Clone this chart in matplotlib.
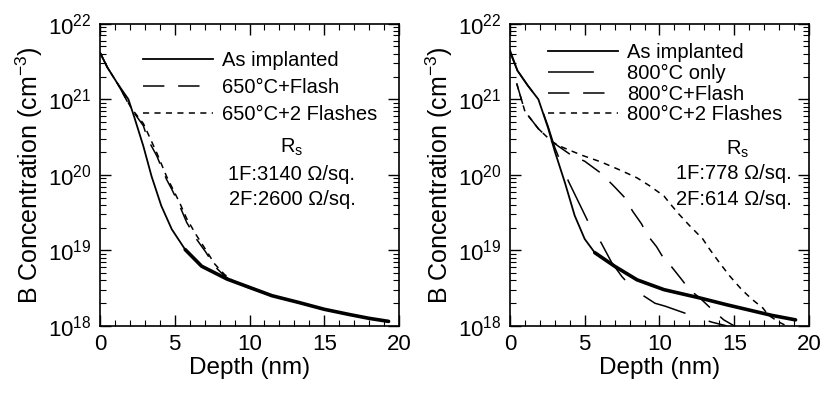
import numpy as np
import matplotlib
matplotlib.use('Agg')
import matplotlib.pyplot as plt
from matplotlib.ticker import MultipleLocator, LogLocator

plt.rcParams['font.family'] = 'Liberation Sans'
plt.rcParams['mathtext.fontset'] = 'custom'
plt.rcParams['mathtext.rm'] = 'Liberation Sans'
plt.rcParams['mathtext.it'] = 'Liberation Sans:italic'
plt.rcParams['mathtext.default'] = 'regular'

# depth (nm) and log10 of B concentration (cm^-3)
# left panel
l_imp_x = [0, 0.5, 1.2, 1.9, 2.3, 2.9, 3.45, 4.1, 4.8, 5.7, 6.8, 8.5, 10.0, 11.5, 13.3, 15.0, 16.7, 18.0, 19.3]
l_imp_y = [21.62, 21.42, 21.20, 21.0, 20.76, 20.38, 19.98, 19.59, 19.28, 19.01, 18.79, 18.62, 18.51, 18.40, 18.31, 18.22, 18.15, 18.10, 18.06]
l_f1_x = [0, 0.5, 1.2, 2.1, 2.9, 3.2, 3.8, 4.45, 4.8, 5.33, 5.8, 6.45, 7.1, 7.67, 8.33, 9.0, 10.0, 11.5, 13.3, 15.0, 16.7, 18.0, 19.3]
l_f1_y = [21.62, 21.42, 21.20, 20.87, 20.65, 20.47, 20.25, 19.94, 19.81, 19.59, 19.37, 19.15, 18.97, 18.79, 18.66, 18.57, 18.50, 18.40, 18.31, 18.22, 18.15, 18.10, 18.06]
l_f2_x = [0, 0.5, 1.2, 2.1, 2.9, 3.8, 4.45, 5.33, 5.8, 6.45, 7.1, 7.67, 8.33, 9.0, 10.0, 11.5, 13.3, 15.0, 16.7, 18.0, 19.3]
l_f2_y = [21.62, 21.42, 21.20, 20.88, 20.68, 20.29, 19.98, 19.63, 19.42, 19.20, 19.00, 18.82, 18.68, 18.58, 18.51, 18.40, 18.31, 18.22, 18.15, 18.10, 18.06]

# right panel
r_imp_x = [0, 0.5, 1.2, 1.9, 2.55, 3.0, 3.67, 4.33, 5.0, 5.67, 7.0, 8.5, 10.3, 12.7, 14.5, 16.0, 17.5, 19.1]
r_imp_y = [21.65, 21.38, 21.18, 21.0, 20.62, 20.31, 19.90, 19.46, 19.15, 18.97, 18.79, 18.61, 18.48, 18.37, 18.28, 18.21, 18.14, 18.08]
r_only_x = [0, 0.5, 1.2, 1.9, 2.55, 3.0, 3.9, 5.2, 6.1, 6.8, 7.5, 8.3, 9.7, 10.4, 12.4, 13.5, 14.5]
r_only_y = [21.62, 21.38, 21.18, 21.0, 20.64, 20.36, 19.92, 19.39, 19.10, 18.84, 18.65, 18.48, 18.30, 18.26, 18.12, 18.05, 18.0]
r_f1_x = [0.45, 1.0, 1.9, 2.8, 4.1, 5.0, 6.1, 7.0, 7.67, 8.2, 8.8, 9.2, 9.8, 10.2, 10.7, 11.1, 11.5, 12.0, 12.7, 13.5, 14.3, 15.0]
r_f1_y = [21.21, 20.84, 20.61, 20.44, 20.26, 20.18, 20.02, 19.84, 19.70, 19.52, 19.35, 19.20, 19.05, 18.92, 18.81, 18.71, 18.61, 18.48, 18.37, 18.22, 18.08, 18.0]
r_f2_x = [0.45, 1.0, 1.9, 2.8, 3.45, 4.8, 6.1, 7.4, 8.5, 9.3, 10.3, 10.7, 11.3, 12.0, 12.9, 13.3, 14.0, 14.7, 15.5, 16.2, 16.9, 17.3, 18.0, 18.5]
r_f2_y = [21.21, 20.84, 20.61, 20.44, 20.37, 20.26, 20.17, 20.06, 19.96, 19.86, 19.72, 19.62, 19.48, 19.33, 19.15, 19.03, 18.84, 18.66, 18.48, 18.35, 18.24, 18.14, 18.05, 18.0]

left_labels = ['As implanted', '650°C+Flash', '650°C+2 Flashes']
right_labels = ['As implanted', '800°C only', '800°C+Flash', '800°C+2 Flashes']
left_rs = ['1F:3140 Ω/sq.', '2F:2600 Ω/sq.']
right_rs = ['1F:778 Ω/sq.', '2F:614 Ω/sq.']

fig = plt.figure(figsize=(8.36, 3.96), dpi=100)
ax1 = fig.add_axes([0.1196, 0.177, 0.3577, 0.763])
ax2 = fig.add_axes([0.610, 0.177, 0.3577, 0.763])

def style(ax):
    ax.set_yscale('log')
    ax.set_xlim(0, 20)
    ax.set_ylim(1e18, 1e22)
    ax.xaxis.set_major_locator(MultipleLocator(5))
    ax.xaxis.set_minor_locator(MultipleLocator(1))
    ax.yaxis.set_major_locator(LogLocator(base=10, numticks=10))
    ax.yaxis.set_minor_locator(LogLocator(base=10, subs=np.arange(2, 10), numticks=20))
    ax.tick_params(which='both', direction='in', top=True, right=True, labelsize=16, pad=6)
    ax.tick_params(which='major', length=8, width=1)
    ax.tick_params(which='minor', length=4, width=0.8)
    ax.set_xlabel('Depth (nm)', fontsize=17.5, labelpad=1)
    ax.set_ylabel('B Concentration (cm$^{-3}$)', fontsize=18, labelpad=2)
    for s in ax.spines.values():
        s.set_linewidth(1.2)

def implant(ax, x, y, label):
    x = np.array(x)
    y = 10 ** np.array(y)
    ax.plot(x, y, color='k', lw=1.3, label=label)
    # noisy tail of the SIMS profile drawn as a thicker band
    tail = x >= 5.6
    ax.plot(x[tail], y[tail], color='k', lw=2.6, solid_capstyle='round')

# left
implant(ax1, l_imp_x, l_imp_y, left_labels[0])
ax1.plot(l_f1_x, 10 ** np.array(l_f1_y), color='k', lw=1.1, dashes=(14, 9), label=left_labels[1])
ax1.plot(l_f2_x, 10 ** np.array(l_f2_y), color='k', lw=1.1, dashes=(4, 3.5), label=left_labels[2])
style(ax1)
ax1.legend(loc='upper left', bbox_to_anchor=(0.143, 0.91), frameon=False, fontsize=14.5,
           handlelength=3.5, handletextpad=0.45, labelspacing=0.4, borderaxespad=0, borderpad=0)
ax1.text(0.642, 0.59, 'R$_s$', transform=ax1.transAxes, ha='center', va='center', fontsize=14.5)
ax1.text(0.642, 0.50, left_rs[0], transform=ax1.transAxes, ha='center', va='center', fontsize=14.5)
ax1.text(0.642, 0.418, left_rs[1], transform=ax1.transAxes, ha='center', va='center', fontsize=14.5)

# right
implant(ax2, r_imp_x, r_imp_y, right_labels[0])
ax2.plot(r_only_x, 10 ** np.array(r_only_y), color='k', lw=1.1, dashes=(30, 16), label=right_labels[1])
ax2.plot(r_f1_x, 10 ** np.array(r_f1_y), color='k', lw=1.1, dashes=(14, 9), label=right_labels[2])
ax2.plot(r_f2_x, 10 ** np.array(r_f2_y), color='k', lw=1.1, dashes=(4, 3.5), label=right_labels[3])
style(ax2)
ax2.legend(loc='upper left', bbox_to_anchor=(0.127, 0.935), frameon=False, fontsize=14.5,
           handlelength=3.5, handletextpad=0.45, labelspacing=0.08, borderaxespad=0, borderpad=0)
ax2.text(0.76, 0.585, 'R$_s$', transform=ax2.transAxes, ha='center', va='center', fontsize=14.5)
ax2.text(0.75, 0.505, right_rs[0], transform=ax2.transAxes, ha='center', va='center', fontsize=14.5)
ax2.text(0.75, 0.42, right_rs[1], transform=ax2.transAxes, ha='center', va='center', fontsize=14.5)

fig.savefig('out.png', dpi=100)
